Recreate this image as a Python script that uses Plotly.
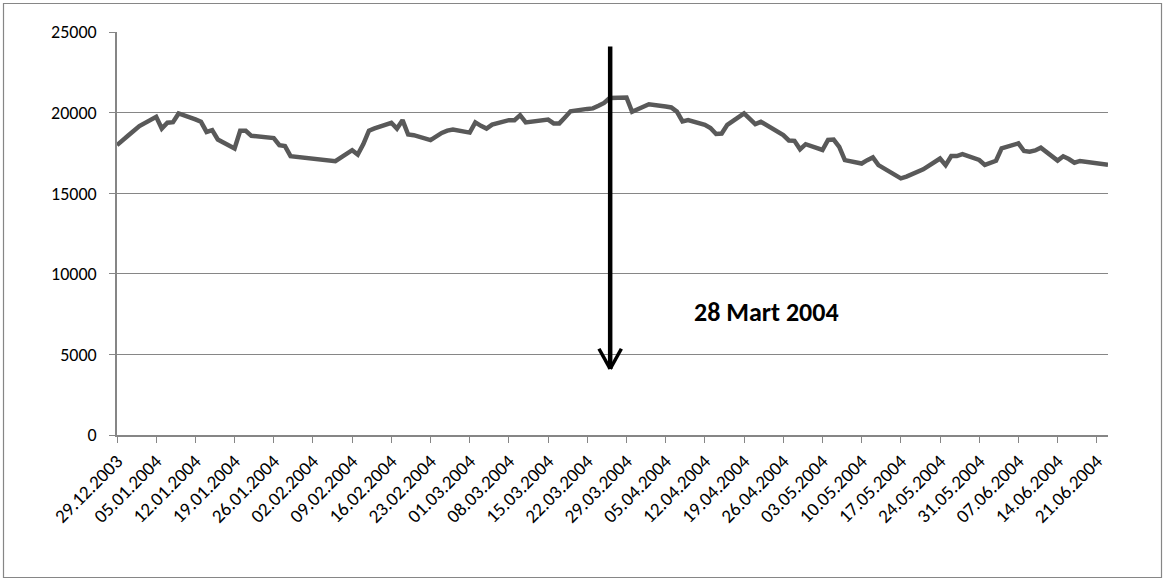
import pandas as pd
import plotly.graph_objects as go

# Daily closing values of the index, 29.12.2003 - 23.06.2004 (trading days only)
dates = [
    "2003-12-29", "2003-12-30", "2003-12-31", "2004-01-02", "2004-01-05",
    "2004-01-06", "2004-01-07", "2004-01-08", "2004-01-09", "2004-01-12",
    "2004-01-13", "2004-01-14", "2004-01-15", "2004-01-16", "2004-01-19",
    "2004-01-20", "2004-01-21", "2004-01-22", "2004-01-23", "2004-01-26",
    "2004-01-27", "2004-01-28", "2004-01-29", "2004-02-06", "2004-02-09",
    "2004-02-10", "2004-02-11", "2004-02-12", "2004-02-13", "2004-02-16",
    "2004-02-17", "2004-02-18", "2004-02-19", "2004-02-20", "2004-02-23",
    "2004-02-24", "2004-02-25", "2004-02-26", "2004-02-27", "2004-03-01",
    "2004-03-02", "2004-03-03", "2004-03-04", "2004-03-05", "2004-03-08",
    "2004-03-09", "2004-03-10", "2004-03-11", "2004-03-12", "2004-03-15",
    "2004-03-16", "2004-03-17", "2004-03-18", "2004-03-19", "2004-03-22",
    "2004-03-23", "2004-03-24", "2004-03-25", "2004-03-26", "2004-03-29",
    "2004-03-30", "2004-03-31", "2004-04-01", "2004-04-02", "2004-04-05",
    "2004-04-06", "2004-04-07", "2004-04-08", "2004-04-09", "2004-04-12",
    "2004-04-13", "2004-04-14", "2004-04-15", "2004-04-16", "2004-04-19",
    "2004-04-20", "2004-04-21", "2004-04-22", "2004-04-26", "2004-04-27",
    "2004-04-28", "2004-04-29", "2004-04-30", "2004-05-03", "2004-05-04",
    "2004-05-05", "2004-05-06", "2004-05-07", "2004-05-10", "2004-05-11",
    "2004-05-12", "2004-05-13", "2004-05-14", "2004-05-17", "2004-05-18",
    "2004-05-20", "2004-05-21", "2004-05-24", "2004-05-25", "2004-05-26",
    "2004-05-27", "2004-05-28", "2004-05-31", "2004-06-01", "2004-06-02",
    "2004-06-03", "2004-06-04", "2004-06-07", "2004-06-08", "2004-06-09",
    "2004-06-10", "2004-06-11", "2004-06-14", "2004-06-15", "2004-06-16",
    "2004-06-17", "2004-06-18", "2004-06-21", "2004-06-22", "2004-06-23",
]

values = [
    17980, 18300, 18580, 19160, 19740,
    19010, 19370, 19410, 19950, 19580,
    19430, 18800, 18910, 18330, 17780,
    18870, 18870, 18560, 18520, 18420,
    17980, 17920, 17300, 16990, 17670,
    17400, 18050, 18880, 19020, 19370,
    19010, 19530, 18640, 18600, 18290,
    18550, 18740, 18880, 18950, 18760,
    19390, 19180, 19010, 19250, 19530,
    19530, 19840, 19390, 19430, 19570,
    19330, 19330, 19700, 20080, 20230,
    20260, 20420, 20600, 20900, 20940,
    20050, 20220, 20380, 20520, 20380,
    20320, 20060, 19450, 19530, 19240,
    19040, 18670, 18700, 19240, 19950,
    19620, 19290, 19430, 18600, 18270,
    18250, 17720, 18040, 17680, 18300,
    18330, 17880, 17050, 16840, 17050,
    17220, 16740, 16520, 15920, 16030,
    16330, 16480, 17150, 16740, 17300,
    17300, 17420, 17060, 16760, 16850,
    17010, 17780, 18090, 17620, 17570,
    17650, 17820, 17020, 17290, 17120,
    16890, 17000, 16870, 16820, 16770,
]

y_ticks = [0, 5000, 10000, 15000, 20000, 25000]

event_label = "28 Mart 2004"
event_arrow_x = pd.Timestamp("2004-03-26 02:00")
event_arrow_top = 24100
event_arrow_tip = 4100
event_label_x = "2004-04-23"
event_label_y = 7600

W, H = 1166, 581
ML, MR, MT, MB = 117, 58, 32, 146
PW, PH = W - ML - MR, H - MT - MB

GRID = "#868686"
FONT = "Carlito, Lato, 'Liberation Sans', sans-serif"

fig = go.Figure()
fig.add_trace(go.Scatter(
    x=dates, y=values, mode="lines",
    line=dict(color="#595959", width=4.5),
    hoverinfo="x+y", showlegend=False,
))

# vertical arrow pointing down at the election date (shaft + open V head)
arrow_line = dict(color="black", width=4.5)
fig.add_shape(type="line", xref="x", yref="y",
              x0=event_arrow_x, x1=event_arrow_x,
              y0=event_arrow_top, y1=event_arrow_tip,
              line=arrow_line)
head_dx = pd.Timedelta(days=2)
head_dy = 1250
for side in (-1, 1):
    fig.add_shape(type="line", xref="x", yref="y",
                  x0=event_arrow_x + side * head_dx, y0=event_arrow_tip + head_dy,
                  x1=event_arrow_x, y1=event_arrow_tip,
                  line=dict(color="black", width=3.5))

fig.add_annotation(
    x=event_label_x, y=event_label_y, xref="x", yref="y",
    text="<b>" + event_label + "</b>", showarrow=False,
    font=dict(family=FONT, size=26, color="black"),
)

# outer chart border
def px_x(p):
    return (p - ML) / PW

def px_y(p):
    return 1 - (p - MT) / PH

fig.add_shape(type="rect", xref="paper", yref="paper",
              x0=px_x(3.5), x1=px_x(1161.5), y0=px_y(577.5), y1=px_y(3.5),
              line=dict(color=GRID, width=1.2), layer="below")

fig.update_layout(
    width=W, height=H,
    margin=dict(l=ML, r=MR, t=MT, b=MB),
    paper_bgcolor="white", plot_bgcolor="white",
    font=dict(family=FONT, size=18, color="black"),
    xaxis=dict(
        type="date",
        range=["2003-12-29", "2004-06-23"],
        tick0="2003-12-29", dtick=7 * 24 * 3600 * 1000,
        tickformat="%d.%m.%Y", tickangle=-45,
        ticks="outside", ticklen=6, tickcolor=GRID, tickwidth=1.2,
        showline=True, linecolor=GRID, linewidth=1.5,
        showgrid=False, zeroline=False,
        tickfont=dict(family=FONT, size=19),
    ),
    yaxis=dict(
        range=[0, 25000], tickvals=y_ticks,
        ticktext=[str(v) for v in y_ticks],
        ticks="outside", ticklen=6, tickcolor=GRID, tickwidth=1.2,
        ticklabelstandoff=9,
        showline=True, linecolor=GRID, linewidth=1.5,
        showgrid=True, gridcolor=GRID, gridwidth=1.2,
        zeroline=False,
        tickfont=dict(family=FONT, size=18),
    ),
)

fig.write_html("out.html")
